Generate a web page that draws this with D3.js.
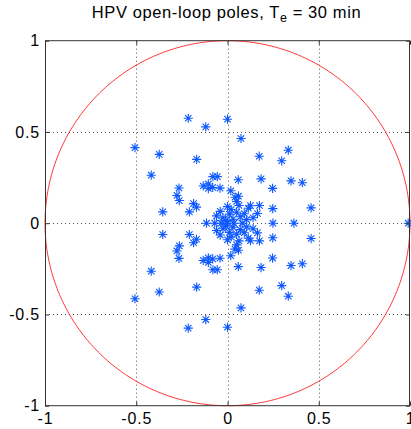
<!DOCTYPE html>
<html>
<head>
<meta charset="utf-8">
<script src="https://cdn.jsdelivr.net/npm/d3@7"></script>
<style>
  html, body { margin: 0; padding: 0; background: #fff; }
  svg { display: block; }
  text { font-family: "Liberation Sans", Arial, Helvetica, sans-serif; fill: #000; }
</style>
</head>
<body>
<svg id="chart" width="411" height="429"></svg>
<script>
// Open-loop pole locations in the complex plane (real part, imaginary part)
const upperRe = [-0.215, 0.000, -0.119, -0.507, -0.374, -0.169, -0.418, -0.080, -0.056, 0.074,
                 0.333, 0.174, 0.297, 0.059, 0.184, 0.348, 0.410, 0.247, -0.266, -0.277,
                 -0.264, -0.133, -0.105, -0.105, -0.081, -0.041, 0.018, 0.041, 0.060, 0.050,
                 0.063, 0.126, 0.114, 0.175, 0.164, 0.248, 0.458, 0.000, -0.170, -0.186,
                 -0.209, -0.355, -0.060, -0.040, -0.025, 0.010, 0.030, 0.050, 0.070, 0.092,
                 0.105, -0.010, 0.020, 0.140];
const upperIm = [0.575, 0.570, 0.528, 0.414, 0.377, 0.350, 0.263, 0.255, 0.255, 0.464,
                 0.400, 0.367, 0.342, 0.238, 0.243, 0.232, 0.222, 0.191, 0.193, 0.152,
                 0.124, 0.204, 0.215, 0.190, 0.196, 0.192, 0.178, 0.142, 0.148, 0.119,
                 0.097, 0.096, 0.082, 0.097, 0.053, 0.080, 0.084, 0.091, 0.088, 0.107,
                 0.062, 0.062, 0.040, 0.065, 0.030, 0.050, 0.022, 0.060, 0.035, 0.052,
                 0.020, 0.015, 0.075, 0.030];
const lowerRe = [-0.215, 0.000, -0.119, -0.507, -0.374, -0.169, -0.418, -0.080, -0.056, 0.074,
                 0.333, 0.174, 0.297, 0.059, 0.184, 0.348, 0.410, 0.247, -0.266, -0.277,
                 -0.264, -0.133, -0.105, -0.105, -0.081, -0.041, 0.018, 0.041, 0.060, 0.050,
                 0.063, 0.126, 0.114, 0.175, 0.164, 0.248, 0.458, 0.000, -0.170, -0.186,
                 -0.209, -0.355, -0.060, -0.040, -0.025, 0.010, 0.030, 0.050, 0.070, 0.092,
                 0.105, -0.010, 0.020, 0.140];
const lowerIm = [-0.575, -0.570, -0.528, -0.414, -0.377, -0.350, -0.263, -0.255, -0.255, -0.464,
                 -0.400, -0.367, -0.342, -0.238, -0.243, -0.232, -0.222, -0.191, -0.193, -0.152,
                 -0.124, -0.204, -0.215, -0.190, -0.196, -0.192, -0.178, -0.142, -0.148, -0.119,
                 -0.097, -0.096, -0.082, -0.097, -0.053, -0.080, -0.084, -0.091, -0.088, -0.107,
                 -0.062, -0.062, -0.040, -0.065, -0.030, -0.050, -0.022, -0.060, -0.035, -0.052,
                 -0.020, -0.015, -0.075, -0.030];
const realPoles = [-0.115, -0.070, -0.035, 0.000, 0.035, 0.080, 0.249, 0.364, 0.990];

const tickValues = [-1, -0.5, 0, 0.5, 1];
const tickLabels = ["-1", "-0.5", "0", "0.5", "1"];
const gridValues = [-0.5, 0, 0.5];
const titleMain = "HPV open-loop poles, T";
const titleSub = "e";
const titleTail = " = 30 min";

const poles = [];
upperRe.forEach((r, i) => poles.push([r, upperIm[i]]));
lowerRe.forEach((r, i) => poles.push([r, lowerIm[i]]));
realPoles.forEach(r => poles.push([r, 0]));

const svg = d3.select("#chart");
const plotLeft = 45, plotRight = 410, plotTop = 40.7, plotBottom = 405.7;
const x = d3.scaleLinear().domain([-1, 1]).range([plotLeft, plotRight]);
const y = d3.scaleLinear().domain([-1, 1]).range([plotBottom, plotTop]);

// dotted grid
const grid = svg.append("g").attr("stroke", "#222").attr("stroke-width", 1)
  .attr("stroke-dasharray", "1,3").attr("opacity", 0.8);
gridValues.forEach(v => {
  grid.append("line").attr("x1", Math.round(x(v)) + 0.5).attr("x2", Math.round(x(v)) + 0.5)
    .attr("y1", plotTop).attr("y2", plotBottom);
  grid.append("line").attr("y1", Math.round(y(v)) + 0.5).attr("y2", Math.round(y(v)) + 0.5)
    .attr("x1", plotLeft).attr("x2", plotRight);
});

// unit circle
const circ = d3.range(0, 361).map(a => [Math.cos(a * Math.PI / 180), Math.sin(a * Math.PI / 180)]);
svg.append("path")
  .attr("d", d3.line().x(d => x(d[0])).y(d => y(d[1]))(circ))
  .attr("fill", "none").attr("stroke", "#ff2020").attr("stroke-width", 0.9);

// asterisk markers
const r1 = 4.6, r2 = 3.2;
const star = `M${-r1},0H${r1}M0,${-r1}V${r1}M${-r2},${-r2}L${r2},${r2}M${-r2},${r2}L${r2},${-r2}`;
svg.append("g").selectAll("path").data(poles).join("path")
  .attr("transform", d => `translate(${x(d[0])},${y(d[1])})`)
  .attr("d", star)
  .attr("fill", "none").attr("stroke", "#0d58ff").attr("stroke-width", 1.1);

// axes with inward ticks on all sides
const tickLen = 4;
const axB = d3.axisBottom(x).tickValues(tickValues).tickSizeInner(-tickLen).tickSizeOuter(0)
  .tickPadding(8).tickFormat((d, i) => tickLabels[i]);
const axL = d3.axisLeft(y).tickValues(tickValues).tickSizeInner(-tickLen).tickSizeOuter(0)
  .tickPadding(8).tickFormat((d, i) => tickLabels[i]);
const axT = d3.axisTop(x).tickValues(tickValues).tickSizeInner(-tickLen).tickSizeOuter(0).tickFormat("");
const axR = d3.axisRight(y).tickValues(tickValues).tickSizeInner(-tickLen).tickSizeOuter(0).tickFormat("");

function styleAxis(g) {
  g.select(".domain").remove();
  g.selectAll("line").attr("stroke", "#333");
  g.selectAll("text").attr("font-size", 16).attr("fill", "#000")
    .attr("letter-spacing", 0.8)
    .style("font-family", '"Liberation Sans", Arial, sans-serif');
}
svg.append("g").attr("transform", `translate(0,${plotBottom})`).call(axB).call(styleAxis)
  .selectAll("text").attr("dy", "0.71em").attr("y", 7);
svg.append("g").attr("transform", `translate(${plotLeft},0)`).call(axL).call(styleAxis)
  .selectAll("text").attr("x", -5);
svg.append("g").attr("transform", `translate(0,${plotTop})`).call(axT).call(styleAxis);
svg.append("g").attr("transform", `translate(${plotRight},0)`).call(axR).call(styleAxis);

// box
svg.append("rect").attr("x", plotLeft + 0.5).attr("y", plotTop).attr("width", plotRight - plotLeft - 1)
  .attr("height", plotBottom - plotTop).attr("fill", "none").attr("stroke", "#333").attr("stroke-width", 1);

// title
const t = svg.append("text").attr("x", 226.5).attr("y", 18.3).attr("text-anchor", "middle")
  .attr("font-size", 16.5).attr("letter-spacing", 0.6);
t.append("tspan").text(titleMain);
t.append("tspan").attr("dy", 4).attr("font-size", 12.5).text(titleSub);
t.append("tspan").attr("dy", -4).text(titleTail);
</script>
</body>
</html>
